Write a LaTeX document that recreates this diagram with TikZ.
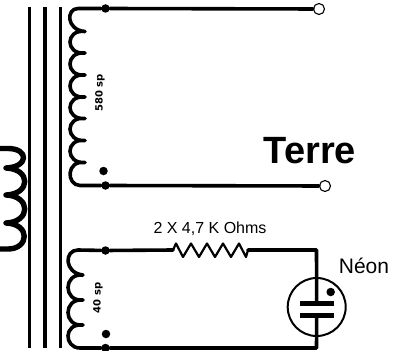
\documentclass[tikz,border=0pt]{standalone}
\usepackage{fontspec}
\setmainfont{Liberation Sans}
\newfontfamily\coilfont{DejaVu Sans}
\begin{document}
\begin{tikzpicture}[x=1pt,y=-1pt,
  wire/.style={line width=3.6pt,line join=round,line cap=round},
  thin wire/.style={line width=2.2pt,line join=round,line cap=round},
  core/.style={line width=3.2pt},
  joint/.style={circle,fill=black,inner sep=0pt,minimum size=8.5pt},
  terminal/.style={circle,draw,line width=1.1pt,fill=white,inner sep=0pt,minimum size=11pt},
  lamp/.style={circle,draw,line width=2pt,inner sep=0pt,minimum size=58pt},
  coillabel/.style={font=\coilfont\bfseries\fontsize{10}{11}\selectfont,rotate=90,inner sep=0pt},
  label/.style={inner sep=0pt,font=\fontsize{16}{18}\selectfont}]
\useasboundingbox (0,0) rectangle (406,350);
\clip (0,0) rectangle (406,350);
% core
\foreach \cx in {29.5,45,60.5} \draw[core] (\cx,7) -- (\cx,348);
% primary
\draw[wire,line width=5.4pt] (0,148.5) -- (8,148.5)
  .. controls (29,148.5) and (29,167) .. (6,168)
  .. controls (31,169) and (31,194) .. (6,195)
  .. controls (31,196) and (31,222) .. (6,223)
  .. controls (31,224) and (29,249) .. (8,249) -- (0,249);
% 580 sp winding
\node[joint] (u1) at (105.5,8.5) {};
\node[joint] (u2) at (105.5,185.5) {};
\node[joint] (uD) at (103.5,171) {};
\node[terminal] (tTop) at (319,9) {};
\node[terminal] (tBot) at (325,186) {};
\draw[wire] (tTop) -- (u1) -- (78,8.5)
  .. controls (66,8.5) and (66,30) .. (85,31.5)
  .. controls (65,29) and (65,55) .. (85,53)
  .. controls (65,51) and (65,77) .. (85,75)
  .. controls (65,73) and (65,99) .. (85,97)
  .. controls (65,95) and (65,120) .. (85,118.5)
  .. controls (65,116) and (65,142) .. (85,140.5)
  .. controls (65,138) and (65,164) .. (85,162.5)
  .. controls (66,160) and (66,185) .. (80,185.5) -- (u2) -- (tBot);
% 40 sp winding
\node[joint] (l1) at (105.5,250.5) {};
\node[joint] (l2) at (105.5,348) {};
\node[joint] (lD) at (106,334) {};
\coordinate (r1) at (173,250);
\coordinate (r2) at (248,250);
\coordinate (corner1) at (316.5,250);
\coordinate (corner2) at (316.5,348);
\draw[wire] (r1) -- (l1) -- (78,250)
  .. controls (64,250) and (64,273) .. (83,275)
  .. controls (63,273) and (63,302) .. (83,300)
  .. controls (63,298) and (63,327) .. (83,325)
  .. controls (63,323) and (64,348) .. (80,348) -- (l2);
% resistor
\draw[thin wire] (r1) -- (176,243.5) -- (183,257) -- (191,243.5) -- (199,257)
  -- (207,243.5) -- (215,257) -- (223,243.5) -- (231,257) -- (239,243.5) -- (246,257) -- (r2);
% neon
\node[lamp] (neon) at (316.7,307) {};
\coordinate (barA) at (316.7,303.5);
\coordinate (barB) at (316.7,315);
\draw[wire] (r2) -- (corner1) -- (barA);
\draw[wire] (barB) -- (corner2) -- (l2);
\draw[line width=5pt] (300,303.5) -- (334,303.5);
\draw[line width=5pt] (300,315) -- (334,315);
\node[joint] (nD) at (330.7,292) {};
% labels
\node[coillabel] (t580) at (100,93) {580 sp};
\node[coillabel] (t40) at (98,298) {40 sp};
\node[label] (tR) at (210,229) {2 X 4,7 K Ohms};
\node[label,font=\fontsize{21}{24}\selectfont] (tN) at (364,266) {Néon};
\node[inner sep=0pt,font=\bfseries\fontsize{38}{41}\selectfont] (tT) at (310,151) {Terre};
\end{tikzpicture}
\end{document}
